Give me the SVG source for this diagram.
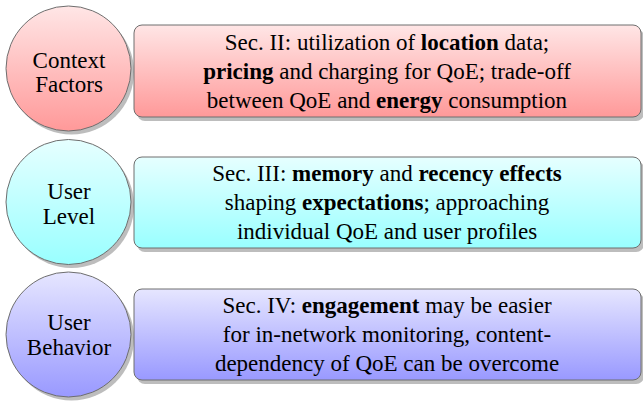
<svg xmlns="http://www.w3.org/2000/svg" width="643" height="407" viewBox="0 0 643 407">
<defs>
<linearGradient id="gRed" x1="0" y1="0" x2="0" y2="1"><stop offset="0" stop-color="#ffe6e6"/><stop offset="1" stop-color="#ff9999"/></linearGradient>
<linearGradient id="gCyan" x1="0" y1="0" x2="0" y2="1"><stop offset="0" stop-color="#e6ffff"/><stop offset="1" stop-color="#99ffff"/></linearGradient>
<linearGradient id="gBlue" x1="0" y1="0" x2="0" y2="1"><stop offset="0" stop-color="#e6e6ff"/><stop offset="1" stop-color="#9999ff"/></linearGradient>
</defs>
<style>
.shadow{fill:#bdbdbd}
.shape{stroke:#6e6e6e;stroke-width:1}
.t{font-family:"Liberation Serif",Tinos,"Times New Roman",Times,"Nimbus Roman","Nimbus Roman No9 L","FreeSerif","Noto Serif","DejaVu Serif",serif;font-size:23px;fill:#000;text-anchor:middle}
.b{font-weight:bold}
</style>
<g id="connectors"/>
<g id="circle-context">
<circle class="shadow" cx="71.5" cy="72" r="62.5"/>
<circle class="shape" cx="68.5" cy="68.5" r="62.5" fill="url(#gRed)"/>
<text class="t" x="69" y="67.5">Context</text>
<text class="t" x="69" y="92">Factors</text>
</g>
<g id="box-context">
<rect class="shadow" x="137" y="29" width="507" height="92" rx="8"/>
<rect class="shape" x="134" y="25" width="507" height="92" rx="8" fill="url(#gRed)"/>
<text class="t" x="387" y="49.5">Sec. II: utilization of <tspan class="b">location</tspan> data;</text>
<text class="t" x="387" y="78.5"><tspan class="b">pricing</tspan> and charging for QoE; trade-off</text>
<text class="t" x="387" y="107.5">between QoE and <tspan class="b">energy</tspan> consumption</text>
</g>
<g id="circle-user-level">
<circle class="shadow" cx="71.5" cy="205.5" r="62.5"/>
<circle class="shape" cx="68.5" cy="202" r="62.5" fill="url(#gCyan)"/>
<text class="t" x="69" y="198.5">User</text>
<text class="t" x="69" y="223.5">Level</text>
</g>
<g id="box-user-level">
<rect class="shadow" x="137" y="161" width="507" height="91" rx="8"/>
<rect class="shape" x="134" y="157" width="507" height="91" rx="8" fill="url(#gCyan)"/>
<text class="t" x="387" y="181">Sec. III: <tspan class="b">memory</tspan> and <tspan class="b">recency effects</tspan></text>
<text class="t" x="387" y="210">shaping <tspan class="b">expectations</tspan>; approaching</text>
<text class="t" x="387" y="239">individual QoE and user profiles</text>
</g>
<g id="circle-user-behavior">
<circle class="shadow" cx="71.5" cy="338" r="62.5"/>
<circle class="shape" cx="68.5" cy="334.5" r="62.5" fill="url(#gBlue)"/>
<text class="t" x="69" y="330">User</text>
<text class="t" x="69" y="355">Behavior</text>
</g>
<g id="box-user-behavior">
<rect class="shadow" x="137" y="293" width="507" height="91" rx="8"/>
<rect class="shape" x="134" y="289" width="507" height="91" rx="8" fill="url(#gBlue)"/>
<text class="t" x="387" y="313">Sec. IV: <tspan class="b">engagement</tspan> may be easier</text>
<text class="t" x="387" y="342">for in-network monitoring, content-</text>
<text class="t" x="387" y="371">dependency of QoE can be overcome</text>
</g>
</svg>
